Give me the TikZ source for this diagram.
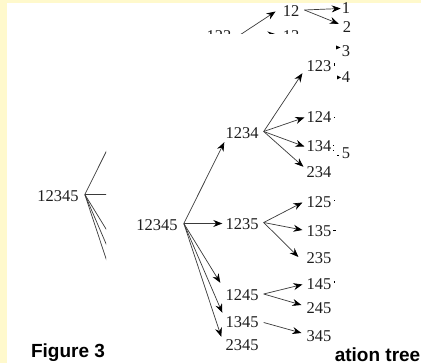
\documentclass[tikz,border=0pt]{standalone}
\usepackage{fontspec}
\setmainfont{Liberation Serif}
\newfontfamily\capfont{Liberation Sans}
\usetikzlibrary{arrows.meta}
\definecolor{bgyellow}{HTML}{FFF9CC}
\definecolor{edgegray}{HTML}{3A3A3A}
\definecolor{labgray}{HTML}{1E1E1E}
\tikzset{
  lab/.style={inner sep=1pt, font=\fontsize{16.5}{16.5}\selectfont, text height=11pt, text depth=0pt, anchor=base, text=labgray},
  arr/.style={draw=edgegray, line width=0.7pt, -{Stealth[length=9pt,width=7pt,inset=3pt,color=black]}},
  frag/.style={fill=black},
  caption/.style={font=\capfont\bfseries\fontsize{19}{19}\selectfont, inner sep=0pt, text=black},
}
\newcommand\treebody{%
  \node[lab] (r) at (157,231) {12345};
  \node[lab] (a) at (242,139) {1234};
  \node[lab] (b) at (242,230) {1235};
  \node[lab] (c) at (242,301) {1245};
  \node[lab] (d) at (242,328) {1345};
  \node[lab] (e) at (242,351) {2345};
  \node[lab] (a1) at (319,72) {123};
  \node[lab] (a2) at (319,123) {124};
  \node[lab] (a3) at (319,152) {134};
  \node[lab] (a4) at (319,178) {234};
  \node[lab] (b1) at (319,208) {125};
  \node[lab] (b2) at (319,237) {135};
  \node[lab] (b3) at (319,264) {235};
  \node[lab] (c1) at (319,290) {145};
  \node[lab] (c2) at (319,314) {245};
  \node[lab] (d1) at (319,342) {345};
  \coordinate (rf) at ([xshift=5pt,yshift=2pt]r.east);
  \coordinate (af) at ([xshift=4pt,yshift=2pt]a.east);
  \coordinate (bf) at ([xshift=4pt,yshift=2pt]b.east);
  \coordinate (cf) at ([xshift=4pt,yshift=1.5pt]c.east);
  \coordinate (df) at ([xshift=4pt]d.east);
  \draw[arr] (rf) -- ([yshift=-2pt]a.south west);
  \draw[arr] (rf) -- ([xshift=-2pt,yshift=1pt]b.west);
  \draw[arr] (rf) -- ([xshift=-4pt,yshift=6pt]c.north west);
  \draw[arr] (rf) -- ([xshift=-2pt,yshift=3pt]d.north west);
  \draw[arr] (rf) -- ([xshift=-3pt,yshift=2pt]e.north west);
  \draw[arr] (af) -- ([xshift=-3pt]a1.south west);
  \draw[arr] (af) -- ([xshift=-1pt]a2.west);
  \draw[arr] (af) -- ([xshift=-1pt]a3.west);
  \draw[arr] (af) -- ([xshift=-2pt,yshift=-1pt]a4.north west);
  \draw[arr] (bf) -- ([xshift=-3pt]b1.west);
  \draw[arr] (bf) -- ([xshift=-3pt,yshift=1.5pt]b2.west);
  \draw[arr] (bf) -- ([xshift=-7pt,yshift=1.5pt]b3.west);
  \draw[arr] (cf) -- ([xshift=-3pt]c1.west);
  \draw[arr] (cf) -- ([xshift=-4pt,yshift=3.5pt]c2.west);
  \draw[arr] (df) -- ([xshift=-4pt,yshift=3.5pt]d1.west);
}
\begin{document}
\begin{tikzpicture}[x=1pt,y=-1pt]
\useasboundingbox (0,0) rectangle (421,363);
\fill[bgyellow] (0,0) rectangle (421,363);
\fill[white] (7,3) rectangle (421,363);
% main tree
\treebody
% final column fragments
\node[lab] (n3) at (346,57) {3};
\node[lab] (n4) at (346,83) {4};
\node[lab] (n5) at (346,159) {5};
\fill[frag] (336,45.5) -- (340.5,47.5) -- (336,49.5) -- cycle;
\fill[frag] (337,75.5) -- (341,77.5) -- (337,79.5) -- cycle;
\fill[frag] (333.5,63) rectangle (334.4,66);
\fill[frag] (333.5,117) rectangle (334.5,118.5);
\fill[frag] (333,145) rectangle (334.2,146.5);
\fill[frag] (333,150) rectangle (334.2,151.5);
\fill[frag] (337,155) rectangle (338.5,156.5);
\fill[frag] (333.5,200) rectangle (334.5,201.5);
\fill[frag] (333,230.5) rectangle (336,231.5);
\fill[frag] (333.5,281.5) rectangle (334.5,283);
% left shifted copy, clipped
\begin{scope}
  \clip (7,3) rectangle (106,363);
  \begin{scope}[shift={(-99,-29)}, name prefix=L-]
    \treebody
  \end{scope}
\end{scope}
% top strip, clipped
\begin{scope}
  \clip (7,3) rectangle (421,33.5);
  \node[lab] (t123) at (219,42) {123};
  \node[lab] (t13) at (291,42) {13};
  \node[lab] (t12) at (291,17) {12};
  \node[lab] (t1) at (346,14) {1};
  \node[lab] (t2) at (347,33) {2};
  \coordinate (tf) at ([xshift=5pt]t123.east);
  \draw[arr] (tf) -- ([xshift=-6pt]t12.west);
  \draw[arr] (tf) -- ([xshift=-5pt,yshift=2pt]t13.west);
  \coordinate (t12f) at ([xshift=4pt,yshift=1.5pt]t12.east);
  \draw[arr] (t12f) -- (t1.west);
  \draw[arr] (t12f) -- ([xshift=-3pt,yshift=-3pt]t2.north west);
\end{scope}
% captions
\node[caption, anchor=base] (cap1) at (68,358) {Figure 3};
\node[caption, anchor=base east] (cap2) at (420.5,362) {ation tree};
\end{tikzpicture}
\end{document}
